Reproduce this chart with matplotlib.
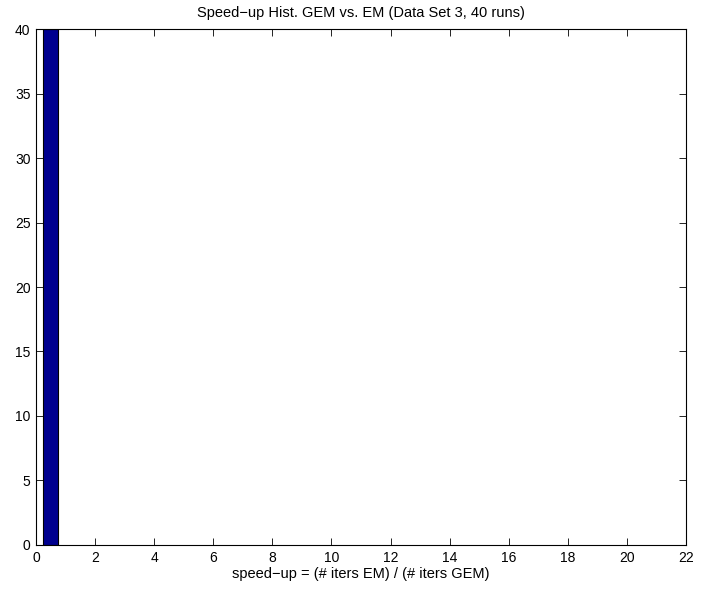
import matplotlib
matplotlib.use("Agg")
import matplotlib.pyplot as plt

plt.rcParams['font.family'] = ['Liberation Sans', 'DejaVu Sans']

# histogram bin centers and counts
bin_centers = [0.5]
counts = [40]
bar_width = 0.5

x_ticks = list(range(0, 23, 2))
y_ticks = list(range(0, 41, 5))

fig = plt.figure(figsize=(7.04, 5.92), dpi=100)
ax = fig.add_axes([0.0511, 0.0794, 0.9233, 0.8716])

ax.bar(bin_centers, counts, width=bar_width, color='#00008F',
       edgecolor='black', linewidth=0.8)

ax.set_xlim(0, 22)
ax.set_ylim(0, 40)
ax.set_xticks(x_ticks)
ax.set_yticks(y_ticks)
ax.tick_params(direction='in', top=True, right=True, labelsize=10,
               length=5, width=0.6, pad=4)
for s in ax.spines.values():
    s.set_linewidth(0.8)

ax.set_title("Speed\u2212up Hist. GEM vs. EM (Data Set 3, 40 runs)", fontsize=10.5, pad=9)
ax.set_xlabel("speed\u2212up = (# iters EM) / (# iters GEM)", fontsize=10.5, labelpad=2)

fig.savefig("out.png", dpi=100)
